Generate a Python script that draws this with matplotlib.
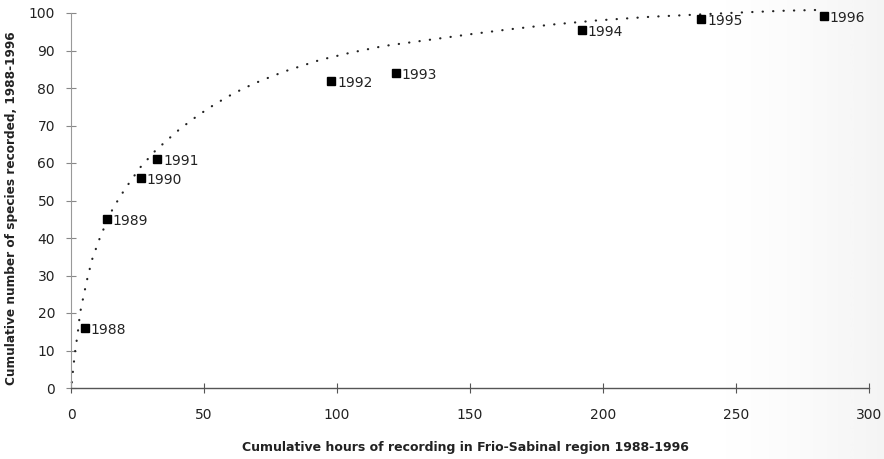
import matplotlib
matplotlib.use("Agg")
import matplotlib.pyplot as plt
import numpy as np

# cumulative hours / species per year
years = ["1988", "1989", "1990", "1991", "1992", "1993", "1994", "1995", "1996"]
hours = [5.3, 13.5, 26.3, 32.5, 97.9, 122, 192, 237, 283]
species = [16, 45, 56, 61, 82, 84, 95.5, 98.3, 99.3]

# fitted accumulation curve
curve_x = [0.3, 0.9, 1.6, 2.6, 3.4, 4.8, 6.3, 8.0, 10.4, 11.7, 15.5, 18.4, 21.9,
           26.0, 31.6, 34.1, 39.8, 45.4, 51.7, 58.4, 64.9, 71.2, 80.2, 93.7, 105,
           117.6, 134.2, 149.7, 164.2, 180.6, 197.5, 218, 233, 250.6, 268, 280]
curve_y = [1.5, 5.7, 10, 15, 20, 24.8, 29.7, 34.4, 39.2, 41.5, 47.5, 51, 54.7,
           58.8, 63.2, 64.8, 68.4, 71.5, 74.6, 77.5, 79.9, 81.9, 84.4, 87.5, 89.4,
           91.2, 92.8, 94.3, 95.6, 96.9, 98.0, 99.0, 99.5, 100.1, 100.6, 100.8]

xticks = [0, 50, 100, 150, 200, 250, 300]
yticks = [0, 10, 20, 30, 40, 50, 60, 70, 80, 90, 100]

txt = "#222222"

fig = plt.figure(figsize=(8.84, 4.59), dpi=100)

# faint scan shading at the right edge
bg = fig.add_axes([0, 0, 1, 1], zorder=-5)
shade = np.clip((np.linspace(0, 1, 400) - 0.8) / 0.2, 0, 1) ** 1.5
bg.imshow(shade[None, :], cmap="Greys", vmin=0, vmax=11, aspect="auto",
          extent=[0, 1, 0, 1])
bg.axis("off")

ax = fig.add_axes([71 / 884, 1 - 388 / 459, 798 / 884, 375 / 459])
ax.patch.set_alpha(0)

ax.plot(curve_x, curve_y, color="#222222", lw=1.6, linestyle=(0, (0.1, 4.6)),
        dash_capstyle="round", clip_on=False)
ax.plot(hours, species, "s", color="black", ms=6, clip_on=False)
for x, y, lab in zip(hours, species, years):
    ax.annotate(lab, (x, y), xytext=(4, -1.5), textcoords="offset points",
                va="center", ha="left", fontsize=10, color=txt,
                family="DejaVu Sans")

ax.set_xlim(0, 300)
ax.set_ylim(0, 100)
ax.set_xticks(xticks)
ax.set_yticks(yticks)
ax.tick_params(axis="x", direction="inout", length=7, width=0.8, color="#555555",
               pad=11, labelsize=10, labelcolor=txt)
ax.tick_params(axis="y", direction="inout", length=7, width=0.8, color="#888888",
               pad=8, labelsize=10, labelcolor=txt)
for lab in ax.get_xticklabels() + ax.get_yticklabels():
    lab.set_family("DejaVu Sans")

ax.spines["top"].set_visible(False)
ax.spines["right"].set_visible(False)
ax.spines["left"].set_color("#999999")
ax.spines["left"].set_linewidth(0.8)
ax.spines["bottom"].set_color("#555555")
ax.spines["bottom"].set_linewidth(1.0)

fig.text(465 / 884, 1 - 447 / 459, "Cumulative hours of recording in Frio-Sabinal region 1988-1996",
         ha="center", va="center", fontsize=9, fontweight="bold", color=txt,
         family="DejaVu Sans")
fig.text(12 / 884, 1 - 208 / 459, "Cumulative number of species recorded, 1988-1996",
         ha="center", va="center", rotation=90, fontsize=8.7, fontweight="bold",
         color=txt, family="DejaVu Sans")

fig.savefig("out.png", dpi=100)
